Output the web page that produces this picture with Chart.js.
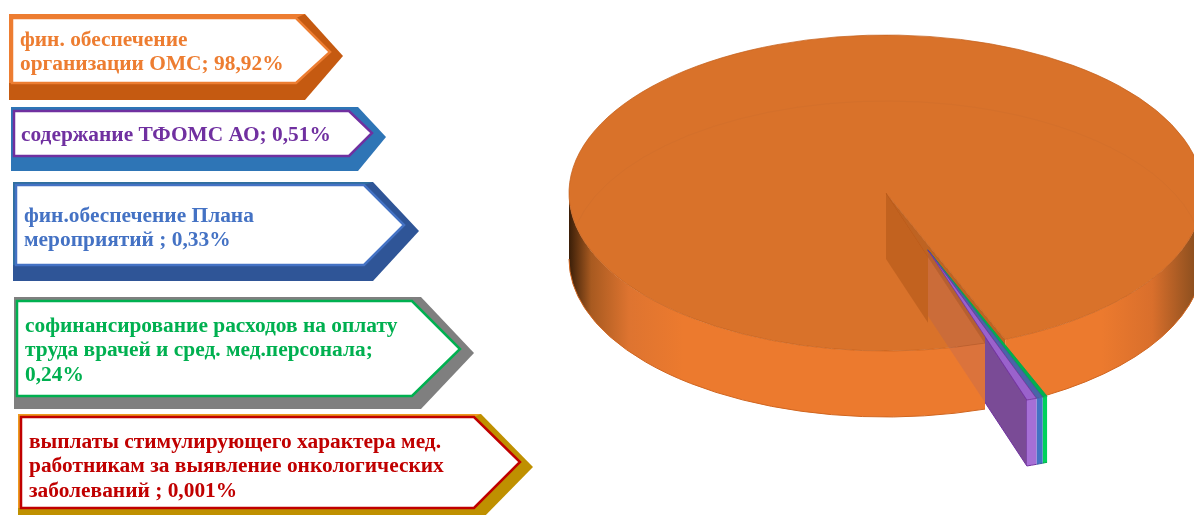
<!DOCTYPE html>
<html>
<head>
<meta charset="utf-8">
<title>Структура расходов</title>
<script src="https://cdn.jsdelivr.net/npm/chart.js@4/dist/chart.umd.min.js"></script>
<style>
    html, body { margin: 0; padding: 0; background: #fff; }
    #chartCanvas { display: block; }
</style>
</head>
<body>
<canvas id="chartCanvas" width="1194" height="515"></canvas>
<script>
// {v} is replaced by the share from the values array
const categories = [
    'фин. обеспечение\nорганизации ОМС; {v}%',
    'содержание ТФОМС АО; {v}%',
    'фин.обеспечение Плана\nмероприятий ; {v}%',
    'софинансирование расходов на оплату\nтруда врачей и сред. мед.персонала;\n{v}%',
    'выплаты стимулирующего характера мед.\nработникам за выявление онкологических\nзаболеваний ; {v}%'
];
const values = [98.92, 0.51, 0.33, 0.24, 0.001];

// slices run clockwise: big one first, then the thin ones from right to left
const sliceOrder = [0, 4, 3, 2, 1];

const topColors = ['#D9722A', '#9A62CC', '#4A64A8', '#00B050', '#C00000'];
const wallColors = ['#EC7A2E', '#A66FD6', '#4472C4', '#00D25A', '#C00000'];
const edgeColors = ['#C5611C', '#7030A0', '#3A5BA0', '#00A84A', 'rgba(0,0,0,0)'];
const textColors = ['#ED7D31', '#7030A0', '#4472C4', '#00B050', '#C00000'];
const bevelColors = ['#C55A11', '#2E75B6', '#2F5597', '#7F7F7F', '#BF9000'];
const litColors = ['#ED7D31', '#2E75B6', '#2F6F9F', '#7F7F7F', '#ED9A20'];

// callout frames: outer [left, top, shoulder, tip, tipY, bottom], inner the same
const calloutOuter = [
    [9, 14, 305, 343, 56, 100],
    [11, 107, 358, 386, 137, 171],
    [13, 182, 373, 419, 231, 281],
    [14, 297, 421, 474, 353, 409],
    [18, 414, 481, 533, 467, 520]
];
const calloutInner = [
    [12, 18, 296, 330, 52, 83],
    [14, 111, 349, 372, 133, 156],
    [16, 185, 364, 404, 225, 265],
    [17, 301, 412, 460, 349, 396],
    [21, 417, 474, 520, 462, 508]
];
const textAnchors = [[20, 46], [21, 141], [24, 222], [25, 332], [29, 448]];
const lineHeight = 24.3;

// pie placement on the page
const centerX = 886;
const centerY = 193;
const radius = 317;
const squash = 158 / 317;
const depth = 66;
const explodeBy = 121.6;

function project(angle, r, z, dx, dy) {
    return {
        x: centerX + dx + r * Math.cos(angle),
        y: centerY + dy + r * Math.sin(angle) * squash + z
    };
}

// side band of a slice, only the part facing the viewer
function drawWall(ctx, arc, dx, dy, fill, edge) {
    const ranges = [[0, Math.PI], [2 * Math.PI, 3 * Math.PI]];
    for (let [from, to] of ranges) {
        const a = Math.max(arc.startAngle, from);
        const b = Math.min(arc.endAngle, to);
        if (b <= a) continue;
        ctx.beginPath();
        ctx.ellipse(centerX + dx, centerY + dy, radius, radius * squash, 0, a, b);
        ctx.ellipse(centerX + dx, centerY + dy + depth, radius, radius * squash, 0, b, a, true);
        ctx.closePath();
        ctx.fillStyle = fill;
        ctx.fill();
        ctx.beginPath();
        ctx.ellipse(centerX + dx, centerY + dy + depth, radius, radius * squash, 0, a, b);
        ctx.strokeStyle = edge;
        ctx.lineWidth = 1;
        ctx.stroke();
    }
}

function drawTop(ctx, arc, dx, dy) {
    ctx.save();
    ctx.translate(centerX + dx, centerY + dy);
    ctx.scale(1, squash);
    ctx.translate(-arc.x, -arc.y);
    arc.draw(ctx);
    ctx.restore();
}

// flat cut face running from the pie centre to the rim
function cutFace(ctx, angle, dx, dy) {
    const inTop = project(angle, 0, 0, dx, dy);
    const outTop = project(angle, radius, 0, dx, dy);
    const outBottom = project(angle, radius, depth, dx, dy);
    const inBottom = project(angle, 0, depth, dx, dy);
    ctx.beginPath();
    ctx.moveTo(inTop.x, inTop.y);
    ctx.lineTo(outTop.x, outTop.y);
    ctx.lineTo(outBottom.x, outBottom.y);
    ctx.lineTo(inBottom.x, inBottom.y);
    ctx.closePath();
}

function clipX(ctx, from, to) {
    ctx.beginPath();
    ctx.rect(from, 0, to - from, 515);
    ctx.clip();
}

const pie3d = {
    id: 'pie3d',
    beforeDatasetsDraw(chart) {
        const ctx = chart.ctx;
        const arcs = chart.getDatasetMeta(0).data;
        const big = arcs[0];
        const midAngle = (arcs[1].startAngle + arcs[arcs.length - 1].endAngle) / 2;
        const dx = Math.cos(midAngle) * explodeBy;
        const dy = Math.sin(midAngle) * explodeBy * squash;
        const rimX = project(big.startAngle, radius, 0, 0, 0).x;
        const sliceX = centerX + dx;

        // cut face seen through the gap in the big slice
        cutFace(ctx, big.endAngle, 0, 0);
        ctx.fillStyle = '#BE6322';
        ctx.fill();

        const shade = ctx.createLinearGradient(centerX - radius, 0, centerX + radius, 0);
        shade.addColorStop(0, '#3A1E08');
        shade.addColorStop(0.035, '#A85A20');
        shade.addColorStop(0.095, '#DE7430');
        shade.addColorStop(0.18, wallColors[0]);
        shade.addColorStop(0.84, wallColors[0]);
        shade.addColorStop(0.92, '#D96F2C');
        shade.addColorStop(0.99, '#8A4E1E');
        drawWall(ctx, big, 0, 0, shade, '#D0651F');
        drawTop(ctx, big, 0, 0);

        // back rim showing faintly through the top
        ctx.beginPath();
        ctx.ellipse(centerX, centerY + depth, radius, radius * squash, 0, 192 * Math.PI / 180, 348 * Math.PI / 180);
        ctx.strokeStyle = '#D4702A';
        ctx.lineWidth = 1;
        ctx.stroke();

        // hidden cut face of the big slice
        ctx.save();
        clipX(ctx, centerX, sliceX);
        cutFace(ctx, big.startAngle, 0, 0);
        ctx.fillStyle = 'rgba(120,50,0,0.24)';
        ctx.fill();
        ctx.restore();

        // thin slices pulled out of the pie
        const thin = arcs.slice(1);
        const lastFace = thin[thin.length - 1];
        ctx.save();
        clipX(ctx, sliceX, rimX);
        cutFace(ctx, lastFace.endAngle, dx, dy);
        ctx.fillStyle = 'rgba(122,75,150,0.14)';
        ctx.fill();
        ctx.restore();

        ctx.save();
        clipX(ctx, rimX, 1194);
        cutFace(ctx, lastFace.endAngle, dx, dy);
        ctx.fillStyle = '#7A4B96';
        ctx.fill();
        ctx.strokeStyle = '#7030A0';
        ctx.lineWidth = 1;
        ctx.stroke();
        ctx.restore();

        thin.forEach((arc, i) => {
            const src = sliceOrder[i + 1];
            drawWall(ctx, arc, dx, dy, wallColors[src], edgeColors[src]);
        });
        thin.forEach(arc => drawTop(ctx, arc, dx, dy));
        return false;
    }
};

function framePath(ctx, f) {
    ctx.beginPath();
    ctx.moveTo(f[0], f[1]);
    ctx.lineTo(f[2], f[1]);
    ctx.lineTo(f[3], f[4]);
    ctx.lineTo(f[2], f[5]);
    ctx.lineTo(f[0], f[5]);
    ctx.closePath();
}

// arrow-shaped captions on the left
const callouts = {
    id: 'callouts',
    afterDraw(chart) {
        const ctx = chart.ctx;
        ctx.save();
        ctx.font = 'bold 21.4px "Liberation Serif", serif';
        ctx.textBaseline = 'alphabetic';
        categories.forEach((name, i) => {
            const outer = calloutOuter[i];
            const inner = calloutInner[i];

            framePath(ctx, outer);
            ctx.fillStyle = bevelColors[i];
            ctx.fill();

            // lit top and left bevel
            ctx.beginPath();
            ctx.moveTo(outer[0], outer[1]);
            ctx.lineTo(outer[2], outer[1]);
            ctx.lineTo(inner[2], inner[1]);
            ctx.lineTo(inner[0], inner[1]);
            ctx.lineTo(inner[0], inner[5]);
            ctx.lineTo(outer[0], inner[5]);
            ctx.closePath();
            ctx.fillStyle = litColors[i];
            ctx.fill();

            framePath(ctx, inner);
            ctx.fillStyle = '#fff';
            ctx.fill();
            ctx.strokeStyle = textColors[i];
            ctx.lineWidth = 2.5;
            ctx.lineJoin = 'miter';
            ctx.stroke();

            const text = name.replace('{v}', String(values[i]).replace('.', ','));
            ctx.fillStyle = textColors[i];
            text.split('\n').forEach((line, n) => {
                ctx.fillText(line, textAnchors[i][0], textAnchors[i][1] + n * lineHeight);
            });
        });
        ctx.restore();
    }
};

const ctx = document.getElementById('chartCanvas').getContext('2d');
new Chart(ctx, {
    type: 'pie',
    data: {
        labels: sliceOrder.map(i => categories[i]),
        datasets: [{
            data: sliceOrder.map(i => values[i]),
            backgroundColor: sliceOrder.map(i => topColors[i]),
            borderColor: sliceOrder.map(i => edgeColors[i]),
            borderWidth: 1
        }]
    },
    options: {
        responsive: false,
        animation: false,
        radius: radius,
        rotation: 161.8,
        layout: { padding: 0 },
        plugins: {
            legend: { display: false },
            tooltip: { enabled: false }
        }
    },
    plugins: [pie3d, callouts]
});
</script>
</body>
</html>
